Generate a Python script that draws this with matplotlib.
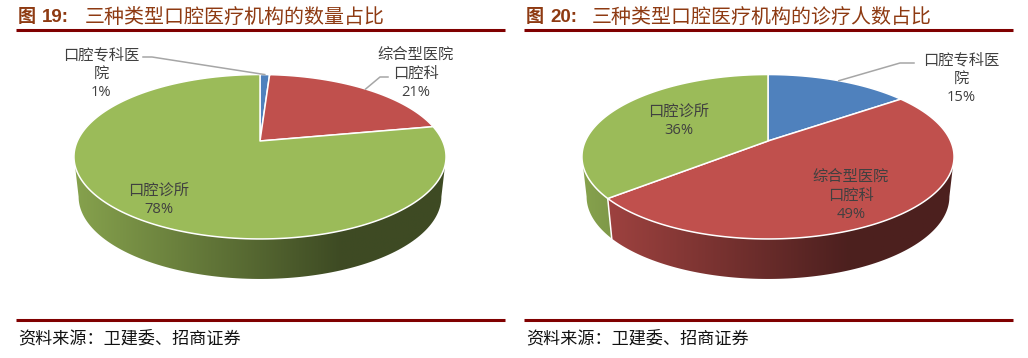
import numpy as np, matplotlib
matplotlib.use("Agg")
import matplotlib.pyplot as plt
from matplotlib.patches import Polygon

plt.rcParams['font.family'] = ['Noto Sans CJK SC', 'DejaVu Sans']

# === data ===
share_19 = [1, 21, 78]
share_20 = [15, 49, 36]
colors = ["#4F81BD", "#C0504D", "#9BBB59"]
title_19 = "三种类型口腔医疗机构的数量占比"
title_20 = "三种类型口腔医疗机构的诊疗人数占比"
source = "资料来源：卫建委、招商证券"
names = ["口腔专科医\n院", "综合型医院\n口腔科", "口腔诊所"]

# === layout (pixels) ===
W, H = 1028, 358
APEX_Y, A, B, P, DEPTH = 141, 182.6, 79.2, 0.1915, 40
RULE, TITLE, SRC = "#800000", "#8E3A12", "#111111"
TXT = "#404040"

fig = plt.figure(figsize=(W/100, H/100), dpi=100)
ax = fig.add_axes([0, 0, 1, 1])

# circle -> screen, with perspective (angle clockwise from top)
def proj(cx, deg, bottom=False):
    t = np.radians(deg); u, v = np.sin(t), np.cos(t); d = 1 + P*v
    if bottom:
        return cx + 0.975*A*u/d, APEX_Y + DEPTH - B*v/d
    return cx + A*u/d, APEX_Y - B*v/d

def side(cx, a0, a1, col):
    # only the front of the pie shows a wall
    a0, a1 = max(a0, 101), min(a1, 259)
    if a1 <= a0: return
    t = np.linspace(a0, a1, 120)
    x1, y1 = proj(cx, t); x2, y2 = proj(cx, t[::-1], True)
    poly = Polygon(np.c_[np.r_[x1, x2], np.r_[y1, y2]], closed=True, fc='none', ec='none')
    ax.add_patch(poly)
    rgb = np.array(matplotlib.colors.to_rgb(col))
    g = np.clip(np.linspace(0, 1/0.71, 256), 0, 1)[:, None]
    img = (rgb*0.87*(1-g) + rgb*0.40*g)[None, :, :]
    im = ax.imshow(img, extent=(cx-A*1.03, cx+A*1.03, 300, 60), aspect='auto', zorder=1)
    im.set_clip_path(poly)

def pie(cx, vals):
    edges = np.cumsum([0] + vals)*3.6
    for i, c in enumerate(colors):
        side(cx, edges[i], edges[i+1], c)
    for e in edges[1:-1]:
        if 101 < e < 259:
            x0, y0 = proj(cx, e); x1, y1 = proj(cx, e, True)
            ax.plot([x0, x1], [y0, y1], color="white", lw=1.1, zorder=2)
    for i, c in enumerate(colors):
        t = np.linspace(edges[i], edges[i+1], 200)
        x, y = proj(cx, t)
        ax.add_patch(Polygon(np.c_[np.r_[cx, x], np.r_[APEX_Y, y]], closed=True, fc=c, ec="white", lw=1.1, joinstyle='round', zorder=3))
    return edges

def leader(cx, edges, i, pts):
    x, y = proj(cx, (edges[i]+edges[i+1])/2)
    xs, ys = zip(*pts)
    ax.plot(list(xs)+[x], list(ys)+[y], color="#A6A6A6", lw=1.1, zorder=4)

def label(x, y, name, val, nudge=0):
    lines = name.split("\n")
    for k, s in enumerate(lines):
        ax.text(x, y+1.5+k*19.3, s, fontsize=11, color=TXT, ha='center', va='center', zorder=5)
    ax.text(x+nudge, y+1+len(lines)*19.3, f"{val}%", fontsize=10.6, family='Open Sans', color=TXT, ha='center', va='center', zorder=5)

CX19, CX20 = 260, 768
e19 = pie(CX19, share_19)
e20 = pie(CX20, share_20)

leader(CX19, e19, 0, [(143, 57), (152, 57)])
leader(CX19, e19, 1, [(388, 77), (380, 77)])
leader(CX20, e20, 0, [(914, 63), (900, 63)])

label(101, 53, names[0], share_19[0])
label(416, 53, names[1], share_19[1])
label(159, 189, names[2], share_19[2])
label(961, 58, names[0], share_20[0])
label(851, 175, names[1], share_20[1])
label(679, 110, names[2], share_20[2])

# === titles, rules, source ===
for x0, num, t, tx in [(16, "19", title_19, 85), (524, "20", title_20, 592)]:
    ax.plot([x0, x0+489], [29.5, 29.5], color=RULE, lw=2.2, solid_capstyle='butt')
    ax.plot([x0, x0+489], [319.5, 319.5], color=RULE, lw=2.2, solid_capstyle='butt')
    ax.text(x0+2, 17, "图", fontsize=13, weight='bold', color=TITLE, ha='left', va='center')
    ax.text(x0+26, 17, num+":", fontsize=13.5, weight='bold', family='Liberation Sans', color=TITLE, ha='left', va='center')
    ax.text(tx, 17, t, fontsize=14.4, weight='medium', color=TITLE, ha='left', va='center')
    ax.text(x0+2, 339, source, fontsize=12.3, color=SRC, ha='left', va='center')

ax.set_xlim(0, W); ax.set_ylim(H, 0); ax.axis('off')
fig.savefig("out.png", dpi=100)
